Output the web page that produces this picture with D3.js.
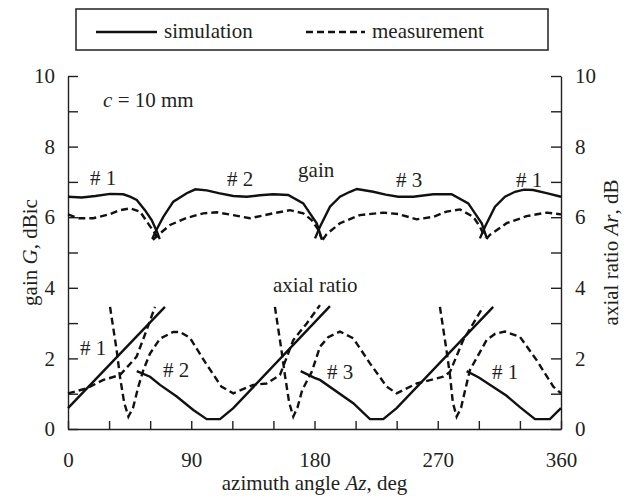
<!DOCTYPE html>
<html>
<head>
<meta charset="utf-8">
<script src="https://cdn.jsdelivr.net/npm/d3@7"></script>
<style>
  body { margin: 0; background: #fff; }
  svg text { font-family: "Liberation Serif", "Times New Roman", serif; fill: #231f20; }
</style>
</head>
<body>
<div id="chart"></div>
<script>
// chart size
var svgWidth = 627;
var svgHeight = 497;
var fontSize = 21;

// ---- data (azimuth deg, value) ----
// gain, simulation (one piece per antenna #1 #2 #3 #1)
var gainSim1a = [[0,6.58],[10,6.56],[20,6.6],[30.7,6.66],[40.4,6.65],[45.3,6.58],[50.2,6.49],[56.2,6.2],[61.1,5.92],[64.8,5.6],[67,5.38]];
var gainSim2 = [[61.5,5.38],[64.5,5.64],[69.6,6.01],[76.9,6.44],[86.7,6.68],[93,6.79],[101.3,6.76],[110,6.68],[120.7,6.6],[130.5,6.58],[140,6.62],[149.9,6.65],[160.8,6.63],[171.8,6.39],[176.7,6.11],[181.6,5.83],[185.2,5.4]];
var gainSim3 = [[180.4,5.4],[184,5.73],[191.3,6.3],[198.6,6.58],[205.9,6.72],[211,6.8],[222.9,6.72],[232,6.64],[241.1,6.58],[252.1,6.58],[266.7,6.65],[280.1,6.65],[292.3,6.39],[297.2,6.11],[302.1,5.83],[305.7,5.42]];
var gainSim1b = [[300.8,5.4],[304.5,5.73],[311.8,6.3],[319.1,6.58],[326.4,6.72],[333,6.78],[339.7,6.77],[349.5,6.68],[360,6.58]];

// gain, measurement
var gainMeas1a = [[0,6.08],[7.5,5.97],[18.5,5.97],[30.7,6.09],[38,6.2],[45.3,6.25],[52.6,6.16],[57.5,5.88],[63.5,5.54],[66.5,5.36]];
var gainMeas2 = [[62,5.36],[67.2,5.54],[74.5,5.78],[86.7,5.98],[98.8,6.11],[108.5,6.14],[120.7,6.06],[132.9,5.97],[149.9,6.11],[162.1,6.2],[171.8,6.11],[177.9,5.92],[182.8,5.64],[185.5,5.36]];
var gainMeas3 = [[186,5.36],[188.9,5.52],[198.6,5.83],[213.2,6.06],[230.2,6.13],[241.1,6.09],[254.6,5.94],[266.7,6.01],[276.5,6.16],[286.2,6.22],[296,6.01],[300.8,5.73],[304.5,5.42]];
var gainMeas1b = [[305.5,5.38],[308.1,5.5],[320.3,5.83],[334.9,6.03],[349.5,6.13],[360,6.08]];

// axial ratio, simulation
var arSim1a = [[0,0.59],[70.8,3.46]];
var arSim2 = [[50.2,1.64],[59.9,1.48],[67.2,1.25],[79.4,0.92],[91.5,0.54],[101.3,0.28],[111,0.28],[120.7,0.59],[191.3,3.48]];
var arSim3 = [[169.9,1.64],[180,1.45],[184,1.39],[208.3,0.73],[220.5,0.28],[230.2,0.28],[240,0.59],[310.5,3.46]];
var arSim1b = [[291.1,1.64],[300,1.46],[320,0.95],[330,0.62],[341,0.28],[351.9,0.28],[360,0.59]];

// axial ratio, measurement
var arMeas1a = [[0,1.01],[13.6,1.15],[25.8,1.39],[38,1.53],[50.1,2.05],[57.4,2.8],[63.5,3.46]];
var arMeas2 = [[30.7,3.46],[35.5,2.24],[38,1.47],[41,0.75],[44.1,0.35],[47.5,0.6],[51.3,1.19],[55,1.67],[59.9,2.14],[67.2,2.56],[76.9,2.75],[81.8,2.75],[89.1,2.58],[100,1.9],[112,1.2],[120.7,1.01],[135.3,1.25],[145,1.29],[154.8,1.53],[164.5,2.52],[174.3,2.99],[184,3.51]];
var arMeas3 = [[151.1,3.46],[156,2.2],[158.5,1.5],[161.5,0.75],[164.5,0.35],[167.5,0.6],[171,1.1],[178,1.62],[184,2.33],[190,2.6],[198.6,2.76],[208.3,2.57],[220.5,1.86],[232.7,1.2],[240,1.01],[254.6,1.29],[274,1.48],[279,1.62],[288.6,2.52],[303.2,3.46]];
var arMeas1b = [[271.6,3.46],[276.5,2.2],[279,1.5],[281,0.75],[283.8,0.35],[287,0.6],[290,1.1],[293.5,1.67],[305.7,2.52],[312,2.7],[319,2.76],[330,2.61],[342.2,1.95],[354.4,1.2],[360,1.01]];

var simLines = [gainSim1a, gainSim2, gainSim3, gainSim1b, arSim1a, arSim2, arSim3, arSim1b];
var measLines = [gainMeas1a, gainMeas2, gainMeas3, gainMeas1b, arMeas1a, arMeas2, arMeas3, arMeas1b];

// tick labels
var xTicks = [0, 30, 60, 90, 120, 150, 180, 210, 240, 270, 300, 330, 360];
var yTicks = [0, 1, 2, 3, 4, 5, 6, 7, 8, 9, 10];

// chart labels (deg, value of baseline)
var labels = [
  {t: "# 1", deg: 16.1, v: 6.91}, {t: "# 2", deg: 116.1, v: 6.88}, {t: "# 3", deg: 239.5, v: 6.86}, {t: "# 1", deg: 327.1, v: 6.86},
  {t: "# 1", deg: 8.8, v: 2.1}, {t: "# 2", deg: 69.4, v: 1.47}, {t: "# 3", deg: 189.1, v: 1.42}, {t: "# 1", deg: 309.6, v: 1.42}
];

// plot area
var plotLeft = 68, plotRight = 561, plotTop = 76, plotBottom = 429;

var svg = d3.select("#chart").append("svg").attr("width", svgWidth).attr("height", svgHeight);

var x = d3.scaleLinear().domain([0, 360]).range([plotLeft, plotRight]);
var y = d3.scaleLinear().domain([0, 10]).range([plotBottom, plotTop]);

// axes (ticks point inward)
var leftAxis = d3.axisLeft(y).tickValues(yTicks).tickSizeInner(-10).tickSizeOuter(0).tickPadding(13)
  .tickFormat(d => d % 2 === 0 ? d : "");
var rightAxis = d3.axisRight(y).tickValues(yTicks).tickSizeInner(-10).tickSizeOuter(0).tickPadding(14)
  .tickFormat(d => d % 2 === 0 ? d : "");
var bottomAxis = d3.axisBottom(x).tickValues(xTicks).tickSizeInner(-8).tickSizeOuter(0).tickPadding(23)
  .tickFormat(d => d % 90 === 0 ? d : "");

svg.append("g").attr("class", "axis").attr("transform", `translate(${plotLeft},0)`).call(leftAxis);
svg.append("g").attr("class", "axis").attr("transform", `translate(${plotRight},0)`).call(rightAxis);
svg.append("g").attr("class", "axis").attr("transform", `translate(0,${plotBottom})`).call(bottomAxis);

svg.selectAll(".axis text").attr("font-size", fontSize).style("font-family", "Liberation Serif").attr("fill", "#231f20");
svg.selectAll(".axis path, .axis line").attr("stroke", "#231f20").attr("stroke-width", 1.4);

// curves
var line = d3.line().x(d => x(d[0])).y(d => y(d[1]));

svg.selectAll("path.sim").data(simLines).enter().append("path")
  .attr("class", "sim")
  .attr("d", line)
  .attr("fill", "none")
  .attr("stroke", "#111")
  .attr("stroke-width", 2.4);

svg.selectAll("path.meas").data(measLines).enter().append("path")
  .attr("class", "meas")
  .attr("d", line)
  .attr("fill", "none")
  .attr("stroke", "#111")
  .attr("stroke-width", 2.4)
  .attr("stroke-dasharray", "7,4");

// text labels in the plot
svg.selectAll("text.num").data(labels).enter().append("text")
  .attr("class", "num")
  .attr("x", d => x(d.deg))
  .attr("y", d => y(d.v))
  .attr("font-size", fontSize)
  .text(d => d.t);

svg.append("text").attr("x", x(168)).attr("y", y(7.14)).attr("font-size", fontSize).text("gain");
svg.append("text").attr("x", x(149.7)).attr("y", y(3.87)).attr("font-size", fontSize).text("axial ratio");

var cText = svg.append("text").attr("x", x(25.6)).attr("y", y(9.12)).attr("font-size", fontSize);
cText.append("tspan").attr("font-style", "italic").text("c");
cText.append("tspan").text(" = 10 mm");

// axis titles
var xTitle = svg.append("text").attr("x", (plotLeft + plotRight) / 2).attr("y", 490)
  .attr("text-anchor", "middle").attr("font-size", fontSize);
xTitle.append("tspan").text("azimuth angle ");
xTitle.append("tspan").attr("font-style", "italic").text("Az");
xTitle.append("tspan").text(", deg");

var yTitle = svg.append("text").attr("transform", `translate(37,${(plotTop + plotBottom) / 2}) rotate(-90)`)
  .attr("text-anchor", "middle").attr("font-size", fontSize);
yTitle.append("tspan").text("gain ");
yTitle.append("tspan").attr("font-style", "italic").text("G");
yTitle.append("tspan").text(", dBic");

var y2Title = svg.append("text").attr("transform", `translate(618,${(plotTop + plotBottom) / 2}) rotate(-90)`)
  .attr("text-anchor", "middle").attr("font-size", fontSize);
y2Title.append("tspan").text("axial ratio ");
y2Title.append("tspan").attr("font-style", "italic").text("Ar");
y2Title.append("tspan").text(", dB");

// legend
var legend = svg.append("g");
legend.append("rect").attr("x", 76).attr("y", 9).attr("width", 472).attr("height", 41)
  .attr("fill", "none").attr("stroke", "#231f20").attr("stroke-width", 1.5);
legend.append("line").attr("x1", 96).attr("x2", 157).attr("y1", 32).attr("y2", 32)
  .attr("stroke", "#111").attr("stroke-width", 2.4);
legend.append("text").attr("x", 164).attr("y", 38).attr("font-size", fontSize).text("simulation");
legend.append("line").attr("x1", 306).attr("x2", 365).attr("y1", 32).attr("y2", 32)
  .attr("stroke", "#111").attr("stroke-width", 2.4).attr("stroke-dasharray", "7,4");
legend.append("text").attr("x", 372).attr("y", 38).attr("font-size", fontSize).text("measurement");
</script>
</body>
</html>
